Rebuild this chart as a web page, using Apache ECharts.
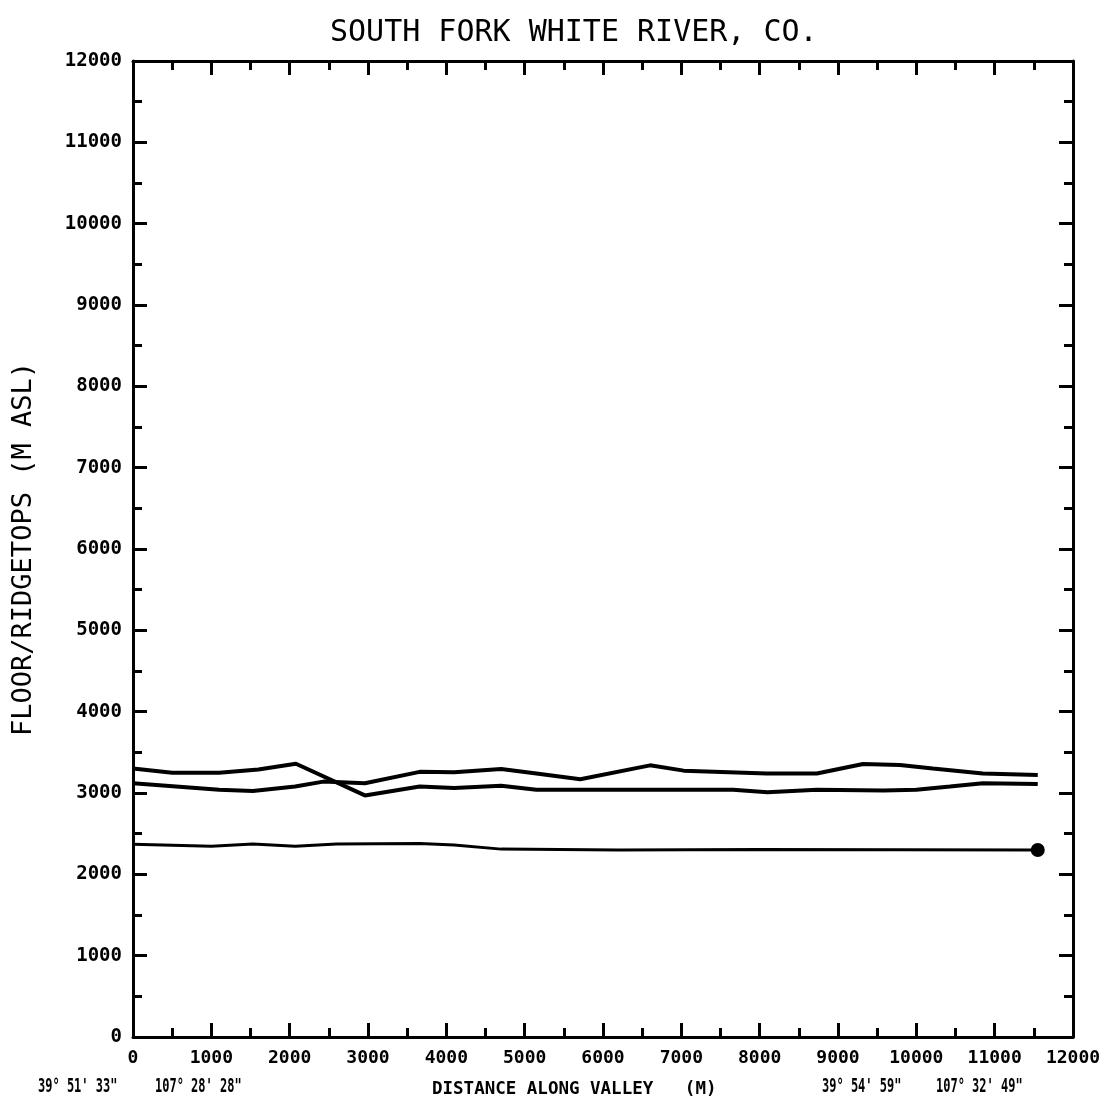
<!DOCTYPE html>
<html>
<head>
<meta charset="utf-8">
<script src="https://cdn.jsdelivr.net/npm/echarts@6/dist/echarts.min.js"></script>
<style>
  html, body { margin: 0; padding: 0; background: #fff; }
  #chart { width: 1110px; height: 1112px; }
</style>
</head>
<body>
<div id="chart"></div>
<script>
// distance along valley (m) and elevation (m ASL) for each profile
var ridgeADist = [0, 500, 1100, 1600, 2080, 2960, 3660, 4100, 4700, 5150, 6200, 7660, 8100, 8730, 9580, 10000, 10430, 10850, 11550];
var ridgeAElev = [3300, 3250, 3250, 3290, 3360, 2970, 3080, 3060, 3090, 3040, 3040, 3040, 3010, 3040, 3030, 3040, 3080, 3120, 3110];

var ridgeBDist = [0, 1100, 1530, 2070, 2430, 2960, 3660, 4100, 4700, 5150, 5710, 6600, 7030, 8090, 8730, 9320, 9790, 10210, 10850, 11550];
var ridgeBElev = [3120, 3040, 3025, 3080, 3140, 3120, 3260, 3255, 3295, 3240, 3170, 3340, 3275, 3240, 3240, 3357, 3344, 3300, 3240, 3220];

var floorDist = [0, 1000, 1530, 2070, 2600, 3660, 4100, 4700, 6200, 8000, 11550];
var floorElev = [2370, 2345, 2373, 2345, 2373, 2380, 2360, 2310, 2300, 2305, 2300];

var titleText = 'SOUTH FORK WHITE RIVER, CO.';
var yName = 'FLOOR/RIDGETOPS (M ASL)';
var xName = 'DISTANCE ALONG VALLEY   (M)';
var startLat = '39\u00b0 51\' 33"', startLon = '107\u00b0 28\' 28"';
var endLat = '39\u00b0 54\' 59"', endLon = '107\u00b0 32\' 49"';

function pairs(xs, ys) {
    return xs.map(function (x, i) { return [x, ys[i]]; });
}

var chart = echarts.init(document.getElementById('chart'));

var mono = 'DejaVu Sans Mono';
var lineStyleAxis = { color: '#000', width: 3 };

function axisBase(extra) {
    var a = {
        type: 'value',
        min: 0,
        max: 12000,
        interval: 1000,
        axisLine: { show: true, onZero: false, lineStyle: lineStyleAxis },
        axisTick: { show: true, inside: true, length: 14, lineStyle: { color: '#000', width: 3 } },
        minorTick: { show: true, splitNumber: 2, length: 9, lineStyle: { color: '#000', width: 3 } },
        splitLine: { show: false },
        axisLabel: { show: false }
    };
    for (var k in extra) a[k] = extra[k];
    return a;
}

function plain(v) { return String(v); }

// narrow plotter-like lettering for the corner coordinates
function coordText(txt, x) {
    return {
        type: 'text', x: x, y: 1077, scaleX: 0.6,
        style: { text: txt, font: 'bold 20px ' + mono, fill: '#000' }
    };
}

var option = {
    backgroundColor: '#fff',
    animation: false,
    title: {
        text: titleText,
        left: 325,
        top: 13,
        textStyle: { fontFamily: mono, fontSize: 30, fontWeight: 'normal', color: '#000' }
    },
    grid: { left: 133, right: 37, top: 61, bottom: 75 },
    xAxis: [
        axisBase({
            position: 'bottom',
            axisLabel: { show: true, margin: 12, formatter: plain, fontFamily: mono, fontWeight: 'bold', fontSize: 18, color: '#000' }
        }),
        axisBase({ position: 'top' })
    ],
    yAxis: [
        axisBase({
            position: 'left',
            name: yName,
            nameLocation: 'middle',
            nameGap: 96,
            nameRotate: 90,
            nameTextStyle: { fontFamily: mono, fontSize: 27, color: '#000' },
            axisLabel: { show: true, margin: 11, formatter: plain, fontFamily: mono, fontWeight: 'bold', fontSize: 19, color: '#000' }
        }),
        axisBase({ position: 'right' })
    ],
    graphic: [
        coordText(startLat, 38),
        coordText(startLon, 155),
        { type: 'text', left: 432, top: 1080, style: { text: xName, font: 'bold 17.5px ' + mono, fill: '#000' } },
        coordText(endLat, 822),
        coordText(endLon, 936)
    ],
    series: [
        {
            type: 'line', data: pairs(ridgeADist, ridgeAElev), symbol: 'none',
            lineStyle: { color: '#000', width: 4 }
        },
        {
            type: 'line', data: pairs(ridgeBDist, ridgeBElev), symbol: 'none',
            lineStyle: { color: '#000', width: 4 }
        },
        {
            type: 'line', data: pairs(floorDist, floorElev), symbol: 'none',
            lineStyle: { color: '#000', width: 3 }
        },
        {
            type: 'scatter',
            data: [[floorDist[floorDist.length - 1], floorElev[floorElev.length - 1]]],
            symbol: 'circle', symbolSize: 14,
            itemStyle: { color: '#000', opacity: 1 }
        }
    ]
};

chart.setOption(option);
</script>
</body>
</html>
